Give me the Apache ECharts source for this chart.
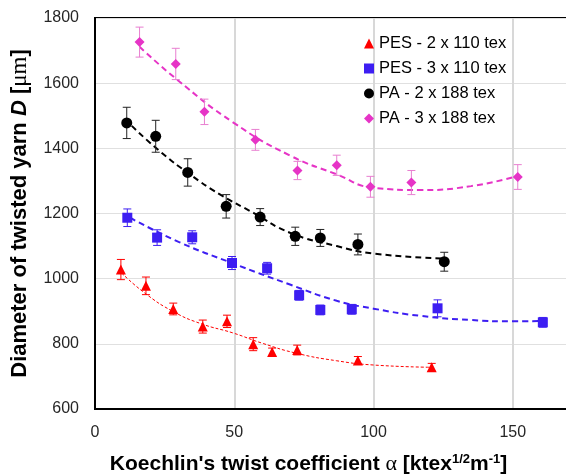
<!DOCTYPE html>
<html>
<head>
<meta charset="utf-8">
<script src="https://cdn.jsdelivr.net/npm/echarts@6/dist/echarts.min.js"></script>
<style>
  html, body { margin: 0; padding: 0; background: #fff; }
  #chart { width: 566px; height: 475px; }
</style>
</head>
<body>
<div id="chart"></div>
<script>
// PES - 2 x 110 tex
var pes2X = [9.3, 18.3, 28.1, 38.7, 47.4, 56.8, 63.6, 72.6, 94.4, 120.9];
var pes2Y = [1028, 978, 907, 853, 869, 799, 775, 781, 749, 728];
var pes2Err = [31, 27, 18, 20, 19, 20, 12, 15, 12, 12];
var pes2TrendX = [9.6, 18, 28.1, 38, 49.7, 60, 72.4, 86.8, 100, 121];
var pes2TrendY = [1017, 955, 899, 862, 833, 802, 771, 748, 735, 728];

// PES - 3 x 110 tex
var pes3X = [11.6, 22.3, 34.9, 49.2, 61.8, 73.3, 80.9, 92.2, 123, 160.8];
var pes3Y = [1187, 1126, 1127, 1048, 1032, 949, 904, 906, 909, 866];
var pes3Err = [27, 24, 20, 20, 18, 15, 15, 15, 26, 15];
var pes3TrendX = [12.6, 30, 49.2, 70, 86.8, 100, 116.7, 135, 150, 160.8];
var pes3TrendY = [1187, 1113, 1048, 982, 932, 908, 886, 873, 869, 870];

// PA - 2 x 188 tex
var pa2X = [11.4, 21.8, 33.3, 47.1, 59.3, 71.9, 80.9, 94.4, 125.4];
var pa2Y = [1478, 1437, 1326, 1222, 1189, 1130, 1125, 1105, 1052];
var pa2Err = [48, 49, 42, 36, 26, 28, 26, 32, 29];
var pa2TrendX = [13.2, 23, 34.1, 45, 56.9, 70, 86.8, 100, 125.1];
var pa2TrendY = [1469, 1393, 1320, 1258, 1202, 1141, 1100, 1077, 1062];

// PA - 3 x 188 tex
var pa3X = [16, 29, 39.3, 57.6, 72.7, 86.8, 98.9, 113.6, 151.8];
var pa3Y = [1726, 1659, 1512, 1426, 1332, 1348, 1282, 1295, 1312];
var pa3Err = [46, 48, 39, 32, 28, 31, 32, 37, 38];
var pa3TrendX = [16, 29.3, 49.7, 70, 86.8, 100, 116.7, 135, 151.8];
var pa3TrendY = [1712, 1612, 1479, 1378, 1320, 1279, 1272, 1284, 1315];

var xTicks = [0, 50, 100, 150, 200];
var yTicks = [600, 800, 1000, 1200, 1400, 1600, 1800];

var FONT = "'Liberation Sans', Arial, sans-serif";

function zip(a, b, c) {
  return a.map(function (v, i) { return c ? [v, b[i], c[i]] : [v, b[i]]; });
}

function errorBar(color) {
  return function (params, api) {
    var x = api.value(0), y = api.value(1), e = api.value(2);
    var lo = api.coord([x, y - e]);
    var hi = api.coord([x, y + e]);
    var w = 4;
    var st = { stroke: color, lineWidth: 1 };
    return {
      type: 'group',
      children: [
        { type: 'line', shape: { x1: lo[0], y1: lo[1], x2: hi[0], y2: hi[1] }, style: st },
        { type: 'line', shape: { x1: lo[0] - w, y1: lo[1], x2: lo[0] + w, y2: lo[1] }, style: st },
        { type: 'line', shape: { x1: hi[0] - w, y1: hi[1], x2: hi[0] + w, y2: hi[1] }, style: st }
      ]
    };
  };
}

function makeSeries(name, color, barColor, symbol, size, xs, ys, errs, tx, ty, lineW, dash) {
  return [
    {
      type: 'line', name: name + ' trend', data: zip(tx, ty), smooth: true,
      showSymbol: false, silent: true, z: 1,
      lineStyle: { color: color, width: lineW, type: dash }
    },
    {
      type: 'custom', name: name + ' err', data: zip(xs, ys, errs),
      renderItem: errorBar(barColor), encode: { x: 0, y: 1 }, z: 2, silent: true
    },
    {
      type: 'scatter', name: name, data: zip(xs, ys), symbol: symbol,
      symbolSize: size, z: 3, itemStyle: { color: color, opacity: 1 }
    }
  ];
}

var series = [].concat(
  makeSeries('PES - 2 x 110 tex', '#ff0000', '#ff0000', 'triangle', 10, pes2X, pes2Y, pes2Err, pes2TrendX, pes2TrendY, 1, [3, 2]),
  makeSeries('PES - 3 x 110 tex', '#3d1ef2', '#3d1ef2', 'rect', 10, pes3X, pes3Y, pes3Err, pes3TrendX, pes3TrendY, 2, [6, 4]),
  makeSeries('PA - 2 x 188 tex', '#000000', '#222222', 'circle', 11, pa2X, pa2Y, pa2Err, pa2TrendX, pa2TrendY, 2, [6, 4]),
  makeSeries('PA - 3 x 188 tex', '#e634c6', '#e87fd0', 'diamond', 10, pa3X, pa3Y, pa3Err, pa3TrendX, pa3TrendY, 2, [6, 4])
);

var plain = function (v) { return String(v); };

var chart = echarts.init(document.getElementById('chart'));
chart.setOption({
  animation: false,
  backgroundColor: '#fff',
  grid: {
    left: 95, top: 18, width: 557, height: 391,
    containLabel: false, outerBoundsMode: 'none',
    show: true, borderColor: '#000', borderWidth: 2, backgroundColor: 'transparent'
  },
  legend: {
    orient: 'vertical', left: 364, top: 35, padding: 0,
    itemWidth: 10, itemHeight: 10, itemGap: 8,
    textStyle: { fontFamily: FONT, fontSize: 16.5, color: '#000' },
    data: [
      { name: 'PES - 2 x 110 tex', icon: 'triangle' },
      { name: 'PES - 3 x 110 tex', icon: 'rect' },
      { name: 'PA - 2 x 188 tex', icon: 'circle' },
      { name: 'PA - 3 x 188 tex', icon: 'diamond' }
    ]
  },
  xAxis: {
    type: 'value', min: xTicks[0], max: xTicks[xTicks.length - 1], interval: 50,
    axisLine: { show: true, onZero: false, lineStyle: { color: '#000', width: 2 } },
    axisTick: { show: false },
    splitLine: { show: true, lineStyle: { color: '#d8d8d8', width: 2 } },
    axisLabel: { margin: 16, fontFamily: FONT, fontSize: 16, color: '#262626', formatter: plain },
    name: "{b|Koechlin's twist coefficient }{a|α}{b| [ktex}{s|1/2}{b|m}{s|-1}{b|]}",
    nameLocation: 'middle', nameGap: 44,
    nameTextStyle: {
      padding: [0, 130, 0, 0],
      rich: {
        b: { fontFamily: FONT, fontSize: 21, fontWeight: 'bold', color: '#000' },
        a: { fontFamily: "'Liberation Serif', serif", fontSize: 22, color: '#000' },
        s: { fontFamily: FONT, fontSize: 13, fontWeight: 'bold', color: '#000', verticalAlign: 'top' }
      }
    }
  },
  yAxis: {
    type: 'value', min: yTicks[0], max: yTicks[yTicks.length - 1], interval: 200,
    axisLine: { show: true, onZero: false, lineStyle: { color: '#000', width: 2 } },
    axisTick: { show: false },
    splitLine: { show: true, lineStyle: { color: '#e0e0e0', width: 1 } },
    axisLabel: { margin: 16, fontFamily: FONT, fontSize: 16, color: '#262626', formatter: plain },
    name: '{b|Diameter of twisted yarn }{i|D}{b| [}{m|μm}{b|]}',
    nameLocation: 'middle', nameGap: 64,
    nameTextStyle: {
      rich: {
        b: { fontFamily: FONT, fontSize: 22, fontWeight: 'bold', color: '#000' },
        i: { fontFamily: FONT, fontSize: 22, fontWeight: 'bold', fontStyle: 'italic', color: '#000' },
        m: { fontFamily: "'Liberation Serif', serif", fontSize: 23, color: '#000' }
      }
    }
  },
  series: series
});
</script>
</body>
</html>
